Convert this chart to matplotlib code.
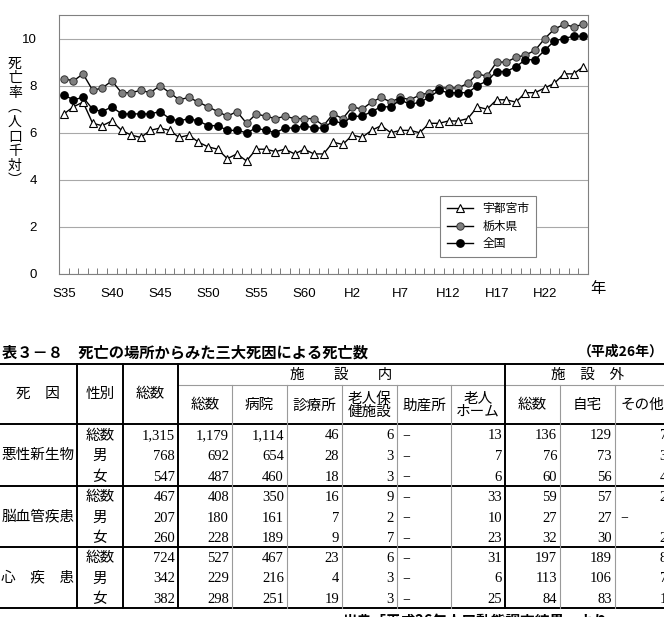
import numpy as np
import matplotlib.pyplot as plt

plt.rcParams['font.family'] = ['Liberation Sans', 'Noto Sans CJK JP']

# ---- chart data (S35 .. H26, one value per year) ----
year_labels = ['S35', 'S40', 'S45', 'S50', 'S55', 'S60', 'H2', 'H7', 'H12', 'H17', 'H22']

utsunomiya = [6.8, 7.1, 7.3, 6.4, 6.3, 6.5, 6.1, 5.9, 5.8, 6.1,
              6.2, 6.1, 5.8, 5.9, 5.6, 5.4, 5.3, 4.9, 5.1, 4.8,
              5.3, 5.3, 5.2, 5.3, 5.1, 5.3, 5.1, 5.1, 5.6, 5.5,
              5.9, 5.8, 6.1, 6.3, 6.0, 6.1, 6.1, 6.0, 6.4, 6.4,
              6.5, 6.5, 6.6, 7.1, 7.0, 7.4, 7.4, 7.3, 7.7, 7.7,
              7.9, 8.1, 8.5, 8.5, 8.8]
tochigi = [8.3, 8.2, 8.5, 7.8, 7.9, 8.2, 7.7, 7.7, 7.8, 7.7,
           8.0, 7.7, 7.4, 7.5, 7.3, 7.1, 6.9, 6.7, 6.9, 6.4,
           6.8, 6.7, 6.6, 6.7, 6.6, 6.6, 6.6, 6.3, 6.8, 6.6,
           7.1, 7.0, 7.3, 7.5, 7.3, 7.5, 7.4, 7.6, 7.7, 7.9,
           7.9, 7.9, 8.1, 8.5, 8.4, 9.0, 9.0, 9.2, 9.3, 9.5,
           10.0, 10.4, 10.6, 10.5, 10.6]
zenkoku = [7.6, 7.4, 7.5, 7.0, 6.9, 7.1, 6.8, 6.8, 6.8, 6.8,
           6.9, 6.6, 6.5, 6.6, 6.5, 6.3, 6.3, 6.1, 6.1, 6.0,
           6.2, 6.1, 6.0, 6.2, 6.2, 6.3, 6.2, 6.2, 6.5, 6.4,
           6.7, 6.7, 6.9, 7.1, 7.1, 7.4, 7.2, 7.3, 7.5, 7.8,
           7.7, 7.7, 7.7, 8.0, 8.2, 8.6, 8.6, 8.8, 9.1, 9.1,
           9.5, 9.9, 10.0, 10.1, 10.1]

# ---- table data ----
causes = ['悪性新生物', '脳血管疾患', '心　疾　患']
sexes = ['総数', '男', '女']
cancer = [[1315, 1179, 1114, 46, 6, None, 13, 136, 129, 7],
          [768, 692, 654, 28, 3, None, 7, 76, 73, 3],
          [547, 487, 460, 18, 3, None, 6, 60, 56, 4]]
cerebro = [[467, 408, 350, 16, 9, None, 33, 59, 57, 2],
           [207, 180, 161, 7, 2, None, 10, 27, 27, None],
           [260, 228, 189, 9, 7, None, 23, 32, 30, 2]]
heart = [[724, 527, 467, 23, 6, None, 31, 197, 189, 8],
         [342, 229, 216, 4, 3, None, 6, 113, 106, 7],
         [382, 298, 251, 19, 3, None, 25, 84, 83, 1]]
sub_headers = ['総数', '病院', '診療所', '老人保\n健施設', '助産所', '老人\nホーム',
               '総数', '自宅', 'その他']

W, H = 664, 617
fig = plt.figure(figsize=(W / 100, H / 100), dpi=100)

# ---------------- line chart ----------------
ax = fig.add_axes([59 / W, 1 - 274 / H, 529 / W, 259 / H])
x = np.arange(len(tochigi))
ax.plot(x, utsunomiya, color='black', lw=1.0, marker='^', ms=5.5,
        mfc='white', mec='black', mew=0.8, label='宇都宮市')
ax.plot(x, tochigi, color='black', lw=1.0, marker='o', ms=5.3,
        mfc='#808080', mec='#333333', mew=0.7, label='栃木県')
ax.plot(x, zenkoku, color='black', lw=1.0, marker='o', ms=5.3,
        mfc='black', mec='black', label='全国')

ax.set_xlim(-0.5, len(x) - 0.5)
ax.set_ylim(0, 11)
ax.set_yticks([0, 2, 4, 6, 8, 10])
ax.set_xticks(np.arange(0, 5 * len(year_labels), 5))
ax.set_xticklabels(year_labels)
ax.set_xticks(np.arange(-0.5, len(x)), minor=True)
ax.tick_params(axis='x', which='major', length=0, pad=10, labelsize=9.5)
ax.tick_params(axis='x', which='minor', direction='in', length=4, color='#666666')
ax.tick_params(axis='y', length=0, pad=16, labelsize=9.5)
ax.grid(axis='y', color='#a8a8a8', lw=0.8)
ax.set_axisbelow(True)
for s in ax.spines.values():
    s.set_color('#808080')
    s.set_linewidth(0.8)

leg = ax.legend(loc='upper left', bbox_to_anchor=(0.72, 0.30), borderaxespad=0,
                fontsize=8.5, handlelength=2.2, fancybox=False, framealpha=1,
                edgecolor='#808080', labelspacing=0.45, borderpad=0.6)
leg.get_frame().set_linewidth(0.8)

fig.text(15 / W, 1 - 122 / H, '死\n亡\n率\n︵\n人\n口\n千\n対\n︶', ha='center',
         va='center', fontsize=10, linespacing=1.05, family='Noto Sans CJK JP')
fig.text(598 / W, 1 - 288 / H, '年', ha='center', va='center', fontsize=11,
         family='Noto Sans CJK JP')

# ---------------- table ----------------
tx = fig.add_axes([0, 0, 1, 1])
tx.set_xlim(0, W)
tx.set_ylim(H, 0)
tx.axis('off')

serif = ['Liberation Serif', 'Noto Sans CJK JP']
fig.text(2 / W, 1 - 352 / H, '表３－８　死亡の場所からみた三大死因による死亡数',
         ha='left', va='center', fontsize=11, fontweight='bold',
         family='Noto Sans CJK JP')
fig.text(664 / W, 1 - 352 / H, '（平成26年）', ha='right', va='center',
         fontsize=10, fontweight='bold', family='Noto Sans CJK JP')

cols = [0, 77, 123, 178, 232, 287, 342, 397, 451, 505, 560, 615, 670]
top, mid, hbot = 364, 385, 424
groups = [424, 486, 547, 608]
thick = dict(color='black', lw=1.4)
thin = dict(color='#9a9a9a', lw=0.8)

for yy in [top, hbot] + groups[1:]:
    tx.plot([0, 670], [yy, yy], **thick)
tx.plot([cols[3], 670], [mid, mid], **thin)
for c in [cols[1], cols[2], cols[3], cols[9]]:
    tx.plot([c, c], [top, groups[-1]], **thick)
for c in cols[4:9] + cols[10:12]:
    tx.plot([c, c], [mid, groups[-1]], **thin)

# header text
hy = (top + hbot) / 2
tx.text(38, hy, '死　因', ha='center', va='center', fontsize=10.5, family=serif)
tx.text(100, hy, '性別', ha='center', va='center', fontsize=10.5, family=serif)
tx.text(150, hy, '総数', ha='center', va='center', fontsize=10.5, family=serif)
tx.text((cols[3] + cols[9]) / 2, (top + mid) / 2 + 1, '施　　設　　内',
        ha='center', va='center', fontsize=10.5, family=serif)
tx.text((cols[9] + cols[12]) / 2, (top + mid) / 2 + 1, '施　設　外',
        ha='center', va='center', fontsize=10.5, family=serif)
for i, lab in enumerate(sub_headers):
    cx = (cols[3 + i] + cols[4 + i]) / 2
    tx.text(cx, (mid + hbot) / 2 + 1, lab, ha='center', va='center',
            fontsize=10.5, family=serif, linespacing=1.0)

# body
for g, (cause, rows) in enumerate(zip(causes, [cancer, cerebro, heart])):
    g0, g1 = groups[g], groups[g + 1]
    rh = (g1 - g0) / 3
    tx.text(38, (g0 + g1) / 2, cause, ha='center', va='center', fontsize=10.5,
            family=serif)
    for r, vals in enumerate(rows):
        cy = g0 + rh * (r + 0.5) + 1.5
        tx.text(100, cy, sexes[r], ha='center', va='center', fontsize=10.5,
                family=serif)
        for j, v in enumerate(vals):
            left, right = cols[2 + j], cols[3 + j]
            if v is None:
                tx.text(left + 5, cy, '−', ha='left', va='center', fontsize=10,
                        family=serif)
            else:
                tx.text(right - 3, cy, f'{v:,}', ha='right', va='center',
                        fontsize=10.5, family=serif)

fig.text(343 / W, 1 - 621 / H, '出典「平成26年人口動態調査結果」より', ha='left',
         va='center', fontsize=10.5, fontweight='bold', family='Noto Sans CJK JP')

fig.savefig('out.png', dpi=100)
